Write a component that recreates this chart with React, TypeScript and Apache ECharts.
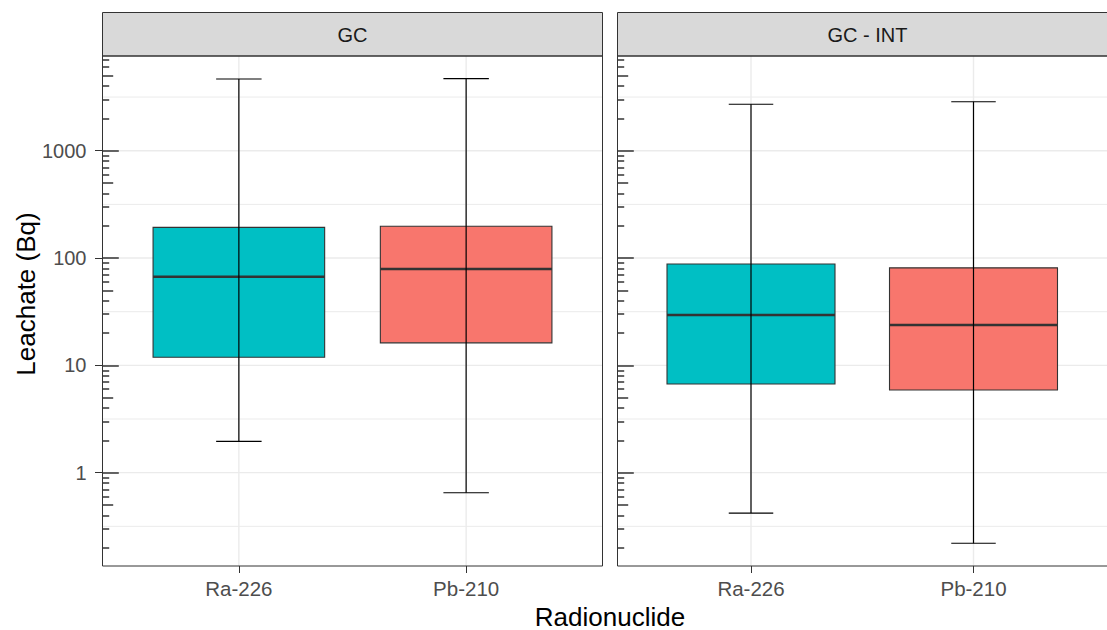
import React, { useEffect, useRef } from "react";
import * as echarts from "echarts";

const facets = ["GC", "GC - INT"];
const categories = ["Ra-226", "Pb-210"];
// box statistics (Bq), one entry per category
const gcLow = [1.96, 0.65];
const gcQ1 = [11.9, 16.2];
const gcMed = [67, 79];
const gcQ3 = [193, 198];
const gcHigh = [4660, 4700];
const intLow = [0.42, 0.22];
const intQ1 = [6.7, 5.9];
const intMed = [29.5, 23.8];
const intQ3 = [88, 81];
const intHigh = [2710, 2860];
const yTickLabels = [1, 10, 100, 1000];
const yRangeMin = 0.135;
const yRangeMax = 7630;

const boxColors = ["#00BFC4", "#F8766D"];
const FONT = "'Liberation Sans', Arial, sans-serif";

const L = (v: number) => Math.log10(v);

const PANEL_TOP = 56;
const PANEL_H = 510;
const PANEL_W = 500;
const PANEL_LEFTS = [102.5, 617.5];
const STRIP_TOP = 12.5;

export default function App() {
  const ref = useRef<HTMLDivElement>(null);
  useEffect(() => {
    if (!ref.current) return;
    const chart = echarts.init(ref.current, null, { renderer: "svg" });
    const yMin = L(yRangeMin);
    const yMax = L(yRangeMax);
    const majors = yTickLabels.map(L);
    const mids: number[] = [];
    const shorts: number[] = [];
    const longs: number[] = [];
    for (let k = -1; k <= 3; k++) {
      for (let m = 1; m <= 9; m++) {
        const lv = L(m * Math.pow(10, k));
        if (lv < yMin || lv > yMax) continue;
        if (m === 1) longs.push(lv);
        else if (m === 5) mids.push(lv);
        else shorts.push(lv);
      }
    }
    const hLines: number[] = [];
    for (let v = -0.5; v <= 3.5; v += 0.5) hLines.push(v);

    const grids = PANEL_LEFTS.map((left) => ({
      left,
      top: PANEL_TOP,
      width: PANEL_W,
      height: PANEL_H,
      show: false,
    }));

    const xAxes = facets.map((_, g) => ({
      type: "value",
      gridIndex: g,
      position: "bottom",
      min: 0.4,
      max: 2.6,
      z: 3,
      axisLine: { show: false, onZero: false },
      splitLine: { show: false },
      axisTick: {
        show: true,
        customValues: [1, 2],
        length: 7,
        lineStyle: { color: "#333333", width: 1 },
      },
      axisLabel: {
        show: true,
        customValues: [1, 2],
        margin: 12,
        fontSize: 20.5,
        color: "#4D4D4D",
        fontFamily: FONT,
        formatter: (v: number) => categories[Math.round(v) - 1] ?? "",
      },
    }));

    const yAxes: any[] = [];
    const tickSets = [
      { vals: longs, len: 16.3 },
      { vals: mids, len: 10.7 },
      { vals: shorts, len: 6.7 },
    ];
    facets.forEach((_, g) => {
      yAxes.push({
        type: "value",
        gridIndex: g,
        position: "left",
        min: yMin,
        max: yMax,
        z: 3,
        axisLine: { show: false, onZero: false },
        splitLine: { show: false },
        axisTick: {
          show: g === 0,
          customValues: majors,
          length: 7.5,
          lineStyle: { color: "#333333", width: 1 },
        },
        axisLabel: {
          show: g === 0,
          customValues: majors,
          margin: 16,
          fontSize: 20,
          color: "#4D4D4D",
          fontFamily: FONT,
          formatter: (v: number) => String(Math.round(Math.pow(10, v))),
        },
      });
      tickSets.forEach((ts) => {
        yAxes.push({
          type: "value",
          gridIndex: g,
          position: "left",
          offset: 0,
          min: yMin,
          max: yMax,
          z: 3,
          axisLine: { show: false, onZero: false },
          splitLine: { show: false },
          axisTick: {
            show: true,
            inside: true,
            customValues: ts.vals,
            length: ts.len,
            lineStyle: { color: "#333333", width: 1.5 },
          },
          axisLabel: { show: false, customValues: ts.vals },
        });
      });
    });

    const stats = [
      [gcLow, gcQ1, gcMed, gcQ3, gcHigh],
      [intLow, intQ1, intMed, intQ3, intHigh],
    ];

    const series: any[] = [];
    facets.forEach((_, g) => {
      const yIdx = g * 4;
      series.push({
        type: "custom",
        xAxisIndex: g,
        yAxisIndex: yIdx,
        z: 1,
        silent: true,
        data: hLines.map((v) => [1, v]),
        encode: { x: 0, y: 1 },
        renderItem: (params: any, api: any) => {
          const v = api.value(1);
          const p = api.coord([1, v]);
          const cs = params.coordSys;
          const major = Math.abs(v - Math.round(v)) < 1e-6;
          return {
            type: "line",
            shape: { x1: cs.x, y1: p[1], x2: cs.x + cs.width, y2: p[1] },
            style: { stroke: "#EBEBEB", lineWidth: major ? 1.4 : 1 },
          };
        },
      });
      series.push({
        type: "custom",
        xAxisIndex: g,
        yAxisIndex: yIdx,
        z: 1,
        silent: true,
        data: categories.map((_c, i) => [i + 1, 1]),
        encode: { x: 0, y: 1 },
        renderItem: (params: any, api: any) => {
          const p = api.coord([api.value(0), 1]);
          const cs = params.coordSys;
          return {
            type: "line",
            shape: { x1: p[0], y1: cs.y, x2: p[0], y2: cs.y + cs.height },
            style: { stroke: "#EBEBEB", lineWidth: 1.4 },
          };
        },
      });
      const [lo, q1, md, q3, hi] = stats[g];
      series.push({
        type: "custom",
        name: facets[g],
        xAxisIndex: g,
        yAxisIndex: yIdx,
        z: 2,
        silent: true,
        data: categories.map((_c, i) => [
          i + 1,
          L(lo[i]),
          L(q1[i]),
          L(md[i]),
          L(q3[i]),
          L(hi[i]),
        ]),
        encode: { x: 0, y: [1, 2, 3, 4, 5] },
        renderItem: (params: any, api: any) => {
          const xv = api.value(0);
          const yLo = api.coord([xv, api.value(1)])[1];
          const yQ1 = api.coord([xv, api.value(2)])[1];
          const yMd = api.coord([xv, api.value(3)])[1];
          const yQ3 = api.coord([xv, api.value(4)])[1];
          const yHi = api.coord([xv, api.value(5)])[1];
          const cx = api.coord([xv, api.value(3)])[0];
          const unit = api.size([1, 0])[0];
          const bw = unit * 0.755;
          const cw = unit * 0.2;
          const color = boxColors[params.dataIndex % boxColors.length];
          return {
            type: "group",
            children: [
              {
                type: "rect",
                shape: { x: cx - bw / 2, y: yQ3, width: bw, height: yQ1 - yQ3 },
                style: { fill: color, stroke: "#333333", lineWidth: 1.1 },
              },
              {
                type: "line",
                shape: { x1: cx - bw / 2, y1: yMd, x2: cx + bw / 2, y2: yMd },
                style: { stroke: "#333333", lineWidth: 2.6 },
              },
              {
                type: "line",
                shape: { x1: cx, y1: yHi, x2: cx, y2: yLo },
                style: { stroke: "#000000", lineWidth: 1.2 },
              },
              {
                type: "line",
                shape: { x1: cx - cw / 2, y1: yHi, x2: cx + cw / 2, y2: yHi },
                style: { stroke: "#000000", lineWidth: 1.2 },
              },
              {
                type: "line",
                shape: { x1: cx - cw / 2, y1: yLo, x2: cx + cw / 2, y2: yLo },
                style: { stroke: "#000000", lineWidth: 1.2 },
              },
            ],
          };
        },
      });
    });

    const graphics: any[] = [];
    PANEL_LEFTS.forEach((left, g) => {
      graphics.push({
        type: "rect",
        z: 10,
        silent: true,
        shape: { x: left, y: STRIP_TOP, width: PANEL_W, height: PANEL_TOP - STRIP_TOP },
        style: { fill: "#D9D9D9", stroke: "#333333", lineWidth: 1 },
      });
      graphics.push({
        type: "text",
        z: 11,
        silent: true,
        x: left + PANEL_W / 2,
        y: (STRIP_TOP + PANEL_TOP) / 2 + 0.5,
        style: {
          text: facets[g],
          fill: "#1A1A1A",
          fontSize: 20,
          fontFamily: FONT,
          align: "center",
          verticalAlign: "middle",
        },
      });
      graphics.push({
        type: "rect",
        z: 10,
        silent: true,
        shape: { x: left, y: PANEL_TOP, width: PANEL_W, height: PANEL_H },
        style: { fill: "none", stroke: "#333333", lineWidth: 1 },
      });
    });
    graphics.push({
      type: "text",
      z: 11,
      silent: true,
      x: (PANEL_LEFTS[0] + PANEL_LEFTS[1] + PANEL_W) / 2,
      y: 616.5,
      style: {
        text: "Radionuclide",
        fill: "#000000",
        fontSize: 26,
        fontFamily: FONT,
        align: "center",
        verticalAlign: "middle",
      },
    });
    graphics.push({
      type: "text",
      z: 11,
      silent: true,
      x: 26,
      y: 294,
      rotation: Math.PI / 2,
      style: {
        text: "Leachate (Bq)",
        fill: "#000000",
        fontSize: 26,
        fontFamily: FONT,
        align: "center",
        verticalAlign: "middle",
      },
    });

    chart.setOption({
      animation: false,
      backgroundColor: "#FFFFFF",
      grid: grids,
      xAxis: xAxes,
      yAxis: yAxes,
      series,
      graphic: { elements: graphics },
    });
    return () => chart.dispose();
  }, []);
  return (
    <div
      ref={ref}
      style={{ position: "absolute", left: 0, top: 0, width: 1107, height: 630 }}
    />
  );
}
